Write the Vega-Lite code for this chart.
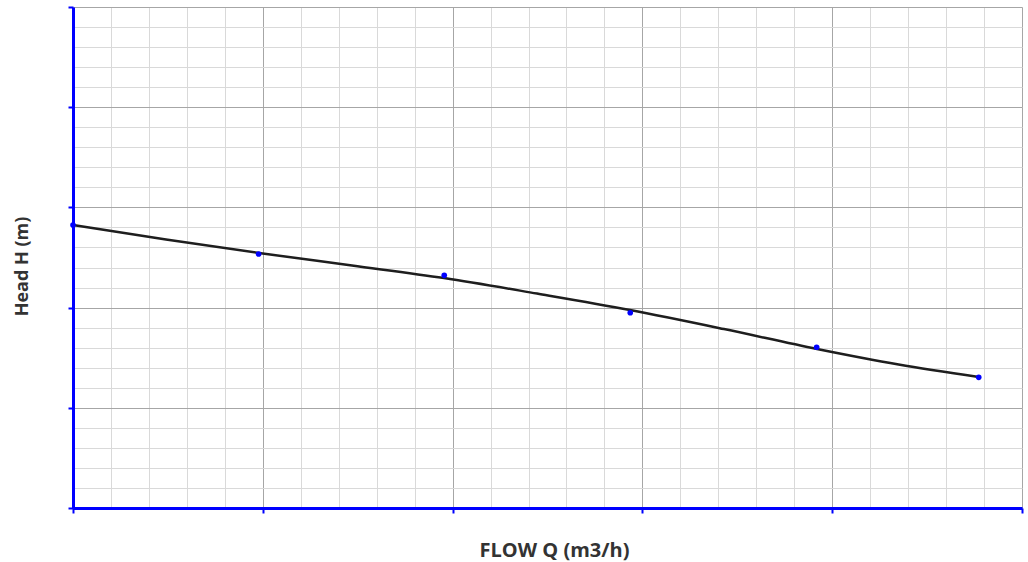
{
  "$schema": "https://vega.github.io/schema/vega-lite/v6.json",
  "width": 949,
  "height": 501,
  "autosize": "none",
  "padding": {"left": 73, "top": 7, "right": 6, "bottom": 54},
  "background": "white",
  "config": {"view": {"stroke": null}},
  "datasets": {
    "pts": [
      {"q": 0.0, "h": 2.824},
      {"q": 0.978, "h": 2.535},
      {"q": 1.956, "h": 2.322},
      {"q": 2.936, "h": 1.949},
      {"q": 3.918, "h": 1.604},
      {"q": 4.772, "h": 1.304}
    ],
    "curve": [
      {"q": 0.0, "h": 2.824},
      {"q": 0.49, "h": 2.680},
      {"q": 0.98, "h": 2.545},
      {"q": 1.47, "h": 2.420},
      {"q": 1.955, "h": 2.295},
      {"q": 2.445, "h": 2.140},
      {"q": 2.935, "h": 1.976},
      {"q": 3.43, "h": 1.786},
      {"q": 3.92, "h": 1.587},
      {"q": 4.35, "h": 1.432},
      {"q": 4.772, "h": 1.307}
    ]
  },
  "resolve": {"axis": {"x": "independent", "y": "independent"}},
  "layer": [
    {
      "data": {"name": "pts"},
      "mark": {"type": "point", "opacity": 0},
      "encoding": {
        "x": {
          "field": "q", "type": "quantitative",
          "scale": {"domain": [0, 5], "nice": false, "zero": false},
          "axis": {
            "orient": "top", "values": [0,0.2,0.4,0.6,0.8,1,1.2,1.4,1.6,1.8,2,2.2,2.4,2.6,2.8,3,3.2,3.4,3.6,3.8,4,4.2,4.4,4.6,4.8,5],
            "grid": true, "gridColor": "#d9d9d9", "gridWidth": 1, "gridOpacity": 1,
            "domain": false, "ticks": false, "labels": false, "title": null
          }
        },
        "y": {
          "field": "h", "type": "quantitative",
          "scale": {"domain": [0, 5], "nice": false, "zero": false},
          "axis": {
            "orient": "right", "values": [0,0.2,0.4,0.6,0.8,1,1.2,1.4,1.6,1.8,2,2.2,2.4,2.6,2.8,3,3.2,3.4,3.6,3.8,4,4.2,4.4,4.6,4.8,5],
            "grid": true, "gridColor": "#d9d9d9", "gridWidth": 1, "gridOpacity": 1,
            "domain": false, "ticks": false, "labels": false, "title": null
          }
        }
      }
    },
    {
      "data": {"name": "curve"},
      "mark": {"type": "line", "color": "#1e1e1e", "strokeWidth": 2.5, "interpolate": "monotone"},
      "encoding": {
        "x": {
          "field": "q", "type": "quantitative",
          "scale": {"domain": [0, 5], "nice": false, "zero": false},
          "axis": {
            "orient": "bottom", "values": [0, 1, 2, 3, 4, 5],
            "grid": true, "gridColor": "#a6a6a6", "gridWidth": 1, "gridOpacity": 1,
            "domain": true, "domainColor": "#0000ff", "domainWidth": 3,
            "ticks": true, "tickColor": "#0000ff", "tickWidth": 2, "tickSize": 5,
            "labels": false,
            "title": "FLOW Q (m3/h)",
            "titleFont": "Open Sans", "titleFontSize": 20, "titleFontWeight": "bold", "titleColor": "#333333",
            "titleX": 481, "titleY": 48, "titleBaseline": "alphabetic", "titleAlign": "center"
          }
        },
        "y": {
          "field": "h", "type": "quantitative",
          "scale": {"domain": [0, 5], "nice": false, "zero": false},
          "axis": {
            "orient": "left", "values": [0, 1, 2, 3, 4, 5],
            "grid": true, "gridColor": "#a6a6a6", "gridWidth": 1, "gridOpacity": 1,
            "domain": true, "domainColor": "#0000ff", "domainWidth": 3,
            "ticks": true, "tickColor": "#0000ff", "tickWidth": 2, "tickSize": 5,
            "labels": false,
            "title": "Head H (m)",
            "titleFont": "Open Sans", "titleFontSize": 18, "titleFontWeight": "bold", "titleColor": "#333333",
            "titleX": -46, "titleY": 259, "titleBaseline": "alphabetic", "titleAlign": "center", "titleAngle": -90
          }
        }
      }
    },
    {
      "data": {"name": "pts"},
      "mark": {"type": "circle", "color": "#0000ff", "opacity": 1, "size": 32},
      "encoding": {
        "x": {"field": "q", "type": "quantitative", "scale": {"domain": [0, 5], "nice": false, "zero": false}, "axis": null},
        "y": {"field": "h", "type": "quantitative", "scale": {"domain": [0, 5], "nice": false, "zero": false}, "axis": null}
      }
    }
  ]
}
